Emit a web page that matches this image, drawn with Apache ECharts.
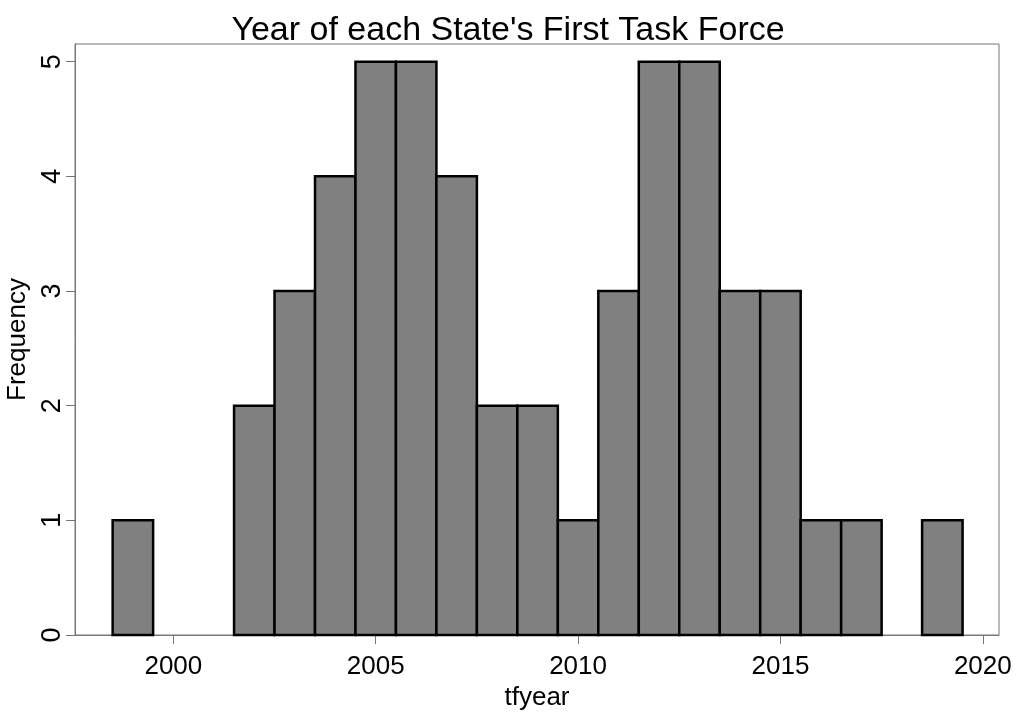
<!DOCTYPE html>
<html>
<head>
<meta charset="utf-8">
<script src="https://cdn.jsdelivr.net/npm/echarts@6/dist/echarts.min.js"></script>
<style>
  html, body { margin: 0; padding: 0; background: #fff; }
  #chart { width: 1016px; height: 713px; }
</style>
</head>
<body>
<div id="chart"></div>
<script>
// histogram bins (one per year, width 1)
var years  = [1999, 2000, 2001, 2002, 2003, 2004, 2005, 2006, 2007, 2008, 2009, 2010, 2011, 2012, 2013, 2014, 2015, 2016, 2017, 2018, 2019];
var counts = [1, 0, 0, 2, 3, 4, 5, 5, 4, 2, 2, 1, 3, 5, 5, 3, 3, 1, 1, 0, 1];
var xTicks = [2000, 2005, 2010, 2015, 2020];
var yTicks = [0, 1, 2, 3, 4, 5];

var font = 'Liberation Sans, Arial, sans-serif';
var chart = echarts.init(document.getElementById('chart'));

// bar data: [start, end, count]
var bins = [];
years.forEach(function (y, i) {
    if (counts[i] > 0) bins.push([y - 0.5, y + 0.5, counts[i]]);
});

chart.setOption({
    animation: false,
    backgroundColor: '#fff',
    title: {
        text: "Year of each State's First Task Force",
        left: 'center',
        top: 9,
        textStyle: { fontFamily: font, fontSize: 34, fontWeight: 'normal', color: '#000' }
    },
    grid: {
        left: 75, right: 17, top: 44, bottom: 78,
        outerBoundsMode: 'none',
        containLabel: false,
        show: true, borderColor: '#777', borderWidth: 1
    },
    xAxis: {
        type: 'value',
        min: 1997.57,
        max: 2020.4,
        name: 'tfyear',
        nameLocation: 'middle',
        nameGap: 42,
        nameTextStyle: { fontFamily: font, fontSize: 26, color: '#000' },
        axisLine: { show: true, lineStyle: { color: '#777', width: 1 } },
        axisTick: { show: true, length: 9, lineStyle: { color: '#777' }, customValues: xTicks },
        axisLabel: {
            fontFamily: font, fontSize: 26, color: '#000', margin: 19, customValues: xTicks,
            formatter: function (v) { return String(v); }
        },
        splitLine: { show: false }
    },
    yAxis: {
        type: 'value',
        min: 0,
        max: 5.154,
        name: 'Frequency',
        nameLocation: 'middle',
        nameGap: 37,
        nameTextStyle: { fontFamily: font, fontSize: 26, color: '#000' },
        axisLine: { show: true, lineStyle: { color: '#777', width: 1 } },
        axisTick: { show: true, length: 9, lineStyle: { color: '#777' }, customValues: yTicks },
        axisLabel: { fontFamily: font, fontSize: 27, color: '#000', rotate: 90, margin: 9, customValues: yTicks },
        splitLine: { show: false }
    },
    series: [{
        type: 'custom',
        data: bins,
        renderItem: function (params, api) {
            var p0 = api.coord([api.value(0), api.value(2)]);
            var p1 = api.coord([api.value(1), 0]);
            return {
                type: 'rect',
                shape: { x: p0[0], y: p0[1], width: p1[0] - p0[0], height: p1[1] - p0[1] },
                style: { fill: '#808080', stroke: '#000', lineWidth: 2.5 }
            };
        }
    }]
});
</script>
</body>
</html>
